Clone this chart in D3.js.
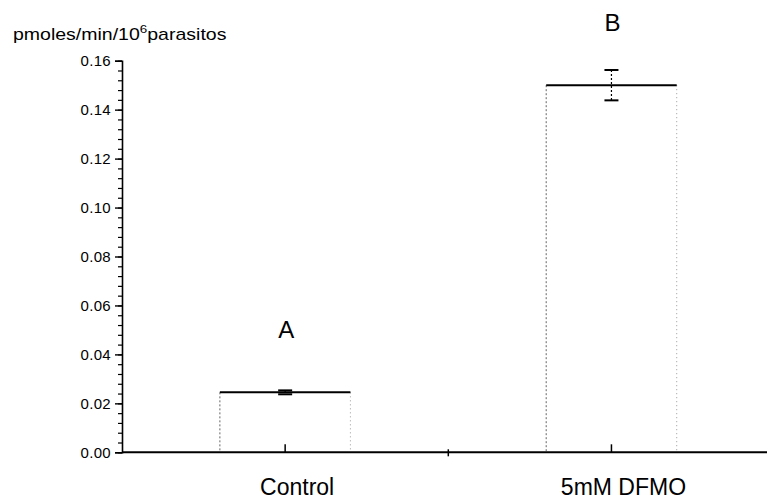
<!DOCTYPE html>
<html>
<head>
<meta charset="utf-8">
<script src="https://cdn.jsdelivr.net/npm/d3@7"></script>
<style>
  html, body { margin: 0; padding: 0; background: #fff; }
  svg { display: block; font-family: "Liberation Sans", Arial, Helvetica, sans-serif; }
</style>
</head>
<body>
<svg id="chart" width="767" height="499"></svg>
<script>
// Enzyme activity per group (pmoles/min/10^6 parasitos)
const categories = ["Control", "5mM DFMO"];
const means = [0.0245, 0.150];
const errors = [0.0008, 0.0062];
const groupLetters = ["A", "B"];
const yTicks = [0.00, 0.02, 0.04, 0.06, 0.08, 0.10, 0.12, 0.14, 0.16];
const yMinorTicks = d3.range(0, 0.1601, 0.004);

const svg = d3.select("#chart");

const x = d3.scaleBand()
  .domain(categories)
  .range([122, 774.6])
  .padding(0);

const y = d3.scaleLinear()
  .domain([0, 0.16])
  .range([452.3, 60.7]);

const barW = x.bandwidth() * 0.4;
const cx = d => x(d) + x.bandwidth() / 2;

// Bars: solid top edge, faint dotted sides
const bars = svg.append("g");
categories.forEach((c, i) => {
  const x0 = cx(c) - barW / 2, x1 = cx(c) + barW / 2;
  bars.append("line")
    .attr("x1", x0).attr("x2", x0)
    .attr("y1", y(means[i])).attr("y2", y(0))
    .attr("stroke", "#666").attr("stroke-width", 1)
    .attr("stroke-dasharray", "2,2");
  bars.append("line")
    .attr("x1", x1).attr("x2", x1)
    .attr("y1", y(means[i])).attr("y2", y(0))
    .attr("stroke", "#999").attr("stroke-width", 1)
    .attr("stroke-dasharray", "1,3");
  bars.append("line")
    .attr("x1", x0).attr("x2", x1)
    .attr("y1", y(means[i])).attr("y2", y(means[i]))
    .attr("stroke", "#000").attr("stroke-width", 2);
});

// Error bars
const err = svg.append("g");
categories.forEach((c, i) => {
  const xc = cx(c);
  const hi = y(means[i] + errors[i]), lo = y(means[i] - errors[i]);
  err.append("line")
    .attr("x1", xc).attr("x2", xc).attr("y1", hi).attr("y2", lo)
    .attr("stroke", "#000").attr("stroke-width", 1.2)
    .attr("stroke-dasharray", "2,2");
  [hi, lo].forEach(v => {
    err.append("line")
      .attr("x1", xc - 7).attr("x2", xc + 7).attr("y1", v).attr("y2", v)
      .attr("stroke", "#000").attr("stroke-width", 2);
  });
});

// Group letters above bars
svg.append("g").selectAll("text")
  .data(categories)
  .join("text")
  .attr("x", d => cx(d) + 1)
  .attr("y", (d, i) => y(means[i]) - 54)
  .attr("text-anchor", "middle")
  .attr("font-size", 24)
  .attr("fill", "#000")
  .text((d, i) => groupLetters[i]);

// Y axis
const yAxis = svg.append("g")
  .attr("transform", "translate(122,0)")
  .call(d3.axisLeft(y).tickValues(yTicks).tickFormat(d3.format(".2f")).tickSize(7).tickPadding(4));
yAxis.select(".domain").attr("stroke-width", 1.6);
yAxis.selectAll(".tick line").attr("stroke-width", 1.4);
yAxis.selectAll(".tick text")
  .attr("font-size", 15)
  .attr("letter-spacing", 0.3)
  .attr("font-family", "Liberation Sans, Arial, sans-serif")
  .attr("fill", "#000");

svg.append("g")
  .attr("transform", "translate(122,0)")
  .call(d3.axisLeft(y).tickValues(yMinorTicks).tickSize(4).tickFormat(""))
  .call(g => g.select(".domain").remove())
  .selectAll(".tick line").attr("stroke-width", 1.2);

// X axis
const xAxisY = y(0);
svg.append("line")
  .attr("x1", 122).attr("x2", 767)
  .attr("y1", xAxisY).attr("y2", xAxisY)
  .attr("stroke", "#000").attr("stroke-width", 2);

const xAxis = svg.append("g")
  .attr("transform", `translate(0,${xAxisY})`)
  .call(d3.axisBottom(x).tickSize(-8).tickPadding(0));
xAxis.select(".domain").remove();
xAxis.selectAll(".tick line").attr("stroke-width", 1.5);
xAxis.selectAll(".tick text")
  .attr("font-size", 23)
  .attr("font-family", "Liberation Sans, Arial, sans-serif")
  .attr("fill", "#000")
  .attr("dx", 12)
  .attr("y", 43)
  .attr("dy", 0);

// Separator mark between the groups
const sep = (cx(categories[0]) + cx(categories[1])) / 2;
svg.append("line")
  .attr("x1", sep).attr("x2", sep)
  .attr("y1", xAxisY - 3).attr("y2", xAxisY + 4)
  .attr("stroke", "#000").attr("stroke-width", 1.5);

// Units label
const title = svg.append("g")
  .attr("transform", "translate(13,40) scale(1.22,1)")
  .append("text")
  .attr("font-size", 16)
  .attr("fill", "#000");
title.append("tspan").text("pmoles/min/10");
title.append("tspan").attr("font-size", 11).attr("dy", -7).text("6");
title.append("tspan").attr("dy", 7).text("parasitos");
</script>
</body>
</html>
